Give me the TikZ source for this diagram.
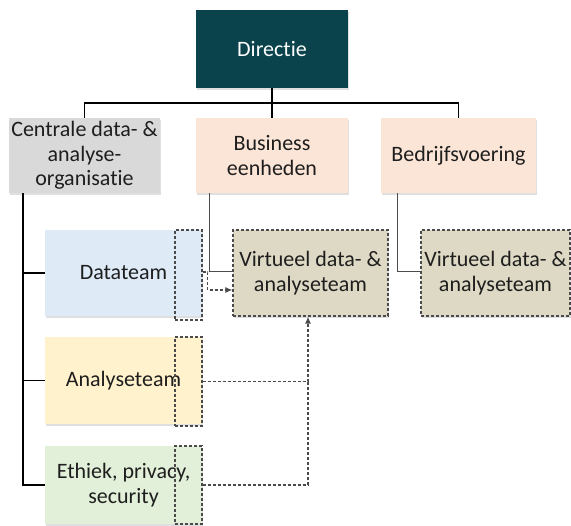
\documentclass[tikz,border=0pt]{standalone}
\usepackage{fontspec}
\setmainfont{Carlito}[Ligatures=NoCommon]
\usetikzlibrary{arrows.meta,shadows}
\definecolor{dirc}{HTML}{0B434C}
\definecolor{grayc}{HTML}{D9D9D9}
\definecolor{peach}{HTML}{FBE5D6}
\definecolor{blue1}{HTML}{DEEBF7}
\definecolor{yel1}{HTML}{FFF2CC}
\definecolor{grn1}{HTML}{E2F0D9}
\definecolor{tan1}{HTML}{DDD9C4}
\definecolor{txt}{HTML}{1E1E1E}
\definecolor{dsh}{HTML}{4A4A4A}
\tikzset{
  box/.style={minimum width=#1, inner sep=0pt, align=center, text=txt,
    font=\fontsize{22}{24.5}\selectfont,
    drop shadow={shadow xshift=1pt, shadow yshift=-2pt, opacity=0.25}},
  dashline/.style={draw=dsh, line width=1.2pt, dash pattern=on 3pt off 2pt},
  vbox/.style={box=#1, fill=tan1, dashline},
  side/.style={dashline, minimum width=27pt, inner sep=0pt},
  orgline/.style={line width=1.8pt, black},
  thinline/.style={line width=0.8pt, black!70},
  tip/.style={-{Latex[length=7pt,width=6pt]}},
}
\begin{document}
\begin{tikzpicture}[x=1pt,y=-1pt]
\useasboundingbox (0,0) rectangle (571,526);
% top level
\node[box=152pt, minimum height=78pt, fill=dirc, text=white] (dir) at (272,49) {Directie};
\node[box=151pt, minimum height=75pt, fill=grayc] (cen) at (84.5,155.5) {Centrale data- \&\\analyse-\\organisatie};
\node[box=152pt, minimum height=75pt, fill=peach] (bus) at (272,155.5) {Business\\eenheden};
\node[box=155pt, minimum height=75pt, fill=peach] (bed) at (458.5,155.5) {Bedrijfsvoering};
% teams
\node[box=157pt, minimum height=86pt, fill=blue1] (dat) at (123.5,273) {Datateam};
\node[box=157pt, minimum height=87pt, fill=yel1] (ana) at (123.5,380.5) {Analyseteam};
\node[box=157pt, minimum height=78pt, fill=grn1] (eth) at (123.5,485) {Ethiek, privacy,\\security};
\node[side, minimum height=90pt] (datd) at (188.5,275) {};
\node[side, minimum height=89pt] (anad) at (188.5,381.5) {};
\node[side, minimum height=78pt] (ethd) at (188.5,485) {};
% virtual teams
\node[vbox=155pt, minimum height=86pt] (v1) at (310.5,273) {Virtueel data- \&\\analyseteam};
\node[vbox=149pt, minimum height=86pt] (v2) at (495.5,273) {Virtueel data- \&\\analyseteam};
% hierarchy lines
\coordinate (bar) at (0,103);
\draw[orgline] (dir.south) -- (dir.south |- bar);
\draw[orgline] (cen.north) -- (cen.north |- bar) -- (bed.north |- bar) -- (bed.north);
\draw[orgline] (bus.north) -- (bus.north |- bar);
\draw[orgline] ([xshift=14pt]cen.south west) |- (eth.west);
\draw[orgline] ([xshift=14pt]cen.south west) |- (dat.west);
\draw[orgline] ([xshift=14pt]cen.south west) |- (ana.west);
\draw[thinline] ([xshift=14pt]bus.south west) |- ([yshift=2pt]v1.west);
\draw[thinline] ([xshift=17pt]bed.south west) |- ([yshift=2pt]v2.west);
% dashed links
\draw[dashline, tip] ([yshift=3pt]datd.east) -- ++(5,0) |- ([yshift=-17pt]v1.west);
\draw[dashline, tip] (anad.east) -| ([xshift=-2.5pt]v1.south);
\draw[dashline] (ethd.east) -| ([xshift=-2.5pt]v1.south |- anad.east);
\end{tikzpicture}
\end{document}
